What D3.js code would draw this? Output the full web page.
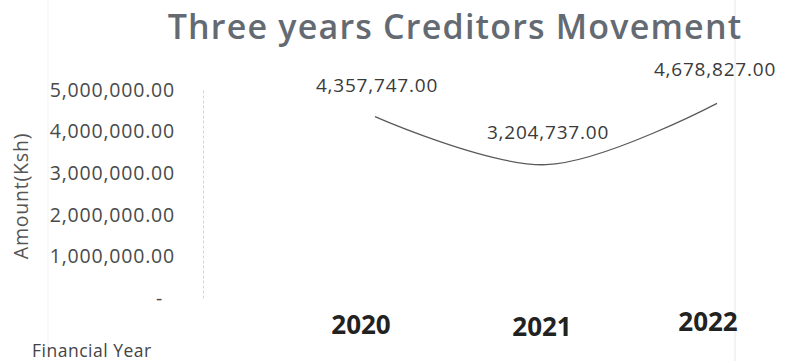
<!DOCTYPE html>
<html>
<head>
<meta charset="utf-8">
<script src="https://cdn.jsdelivr.net/npm/d3@7"></script>
<style>
  body { margin: 0; background: #fff; }
  text { font-family: "Open Sans", "Noto Sans", sans-serif; }
</style>
</head>
<body>
<svg id="chart" width="788" height="361"></svg>
<script>
var years = ["2020", "2021", "2022"];
var creditors = [4357747, 3204737, 4678827];
var yTicks = [0, 1000000, 2000000, 3000000, 4000000, 5000000];

(function () {
    var svg = d3.select("#chart");

    var x = d3.scalePoint()
        .domain(years)
        .range([375, 717]);

    var y = d3.scaleLinear()
        .domain([0, 5000000])
        .range([298, 90]);

    var fmt = d3.format(",.2f");

    // faint frame lines from the scan
    svg.append("line")
        .attr("x1", 48).attr("x2", 48)
        .attr("y1", 0).attr("y2", 361)
        .attr("stroke", "#f3f3f3");
    svg.append("line")
        .attr("x1", 735).attr("x2", 735)
        .attr("y1", 0).attr("y2", 361)
        .attr("stroke", "#e6e4ea");

    // title
    svg.append("text")
        .attr("x", 455)
        .attr("y", 39)
        .attr("text-anchor", "middle")
        .attr("font-size", 34)
        .attr("font-weight", 600)
        .attr("letter-spacing", 1.2)
        .attr("fill", "#646a72")
        .text("Three years Creditors Movement");

    // y axis
    var yAxis = svg.append("g")
        .attr("transform", "translate(203,0)")
        .call(d3.axisLeft(y)
            .tickValues(yTicks)
            .tickSize(0)
            .tickPadding(28)
            .tickFormat(function (d) { return d === 0 ? "-" : fmt(d); }));

    yAxis.select(".domain")
        .attr("stroke", "#d4d4d8")
        .attr("stroke-dasharray", "3,2");

    yAxis.selectAll(".tick text")
        .attr("font-size", 19.5)
        .attr("letter-spacing", 0.8)
        .attr("fill", "#4a4a4a")
        .attr("font-family", "Open Sans, sans-serif")
        .attr("dx", function (d) { return d === 0 ? -12 : 0; });

    svg.append("text")
        .attr("transform", "translate(28,196) rotate(-90)")
        .attr("text-anchor", "middle")
        .attr("font-size", 19.5)
        .attr("letter-spacing", 0.8)
        .attr("fill", "#555")
        .text("Amount(Ksh)");

    // x category labels (scan is slightly skewed)
    var yearDx = [-14, -4, -9];
    var yearY = [334, 336, 331];
    svg.selectAll(".year")
        .data(years)
        .enter().append("text")
        .attr("class", "year")
        .attr("x", function (d, i) { return x(d) + yearDx[i]; })
        .attr("y", function (d, i) { return yearY[i]; })
        .attr("text-anchor", "middle")
        .attr("font-size", 26)
        .attr("font-weight", 700)
        .attr("fill", "#222")
        .text(function (d) { return d; });

    svg.append("text")
        .attr("x", 32)
        .attr("y", 357)
        .attr("font-size", 17.5)
        .attr("font-weight", 500)
        .attr("letter-spacing", 0.5)
        .attr("fill", "#444")
        .text("Financial Year");

    // the line
    var pts = years.map(function (d, i) { return [x(d), y(creditors[i])]; });
    svg.append("path")
        .datum(pts)
        .attr("fill", "none")
        .attr("stroke", "#5a5a5a")
        .attr("stroke-width", 1.3)
        .attr("d", d3.line().curve(d3.curveCatmullRom.alpha(0.5)));

    // data labels
    var labelDx = [2, 2, -2];
    var labelDy = [-25, -26, -27];
    svg.selectAll(".dlabel")
        .data(creditors)
        .enter().append("text")
        .attr("class", "dlabel")
        .attr("x", function (d, i) { return x(years[i]) + labelDx[i]; })
        .attr("y", function (d, i) { return y(d) + labelDy[i]; })
        .attr("text-anchor", "middle")
        .attr("font-size", 19)
        .attr("letter-spacing", 0.8)
        .attr("fill", "#3a3a3a")
        .text(function (d) { return fmt(d); });
})();
</script>
</body>
</html>
